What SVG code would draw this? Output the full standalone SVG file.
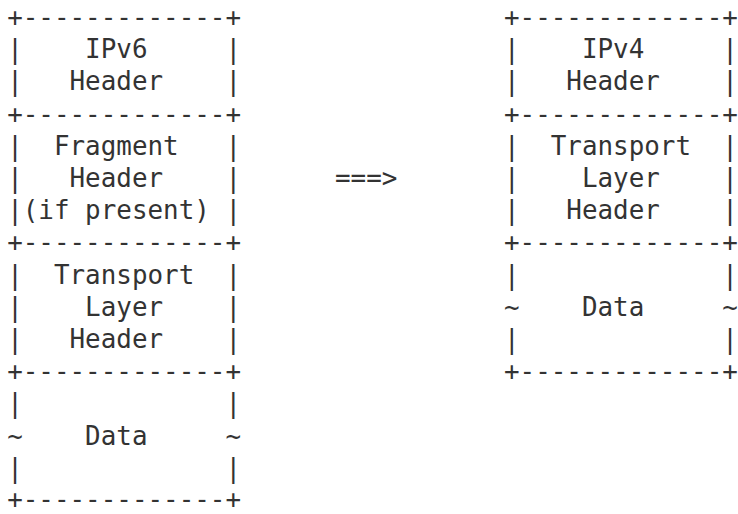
<svg xmlns="http://www.w3.org/2000/svg" width="738" height="514" viewBox="0 0 738 514">
<style>
text{font-family:"DejaVu Sans Mono","Liberation Mono",monospace;font-size:25.9px;fill:#333;white-space:pre}
</style>
<rect width="738" height="514" fill="#fff"/>
<g id="left-stack" xml:space="preserve">
<g id="ipv6-header">
<text x="7.2" y="26">+-------------+</text>
<text x="7.2" y="58.2">|    IPv6     |</text>
<text x="7.2" y="90.4">|   Header    |</text>
<text x="7.2" y="122.6">+-------------+</text>
</g>
<g id="fragment-header">
<text x="7.2" y="154.8">|  Fragment   |</text>
<text x="7.2" y="187">|   Header    |</text>
<text x="7.2" y="219.2">|(if present) |</text>
<text x="7.2" y="251.4">+-------------+</text>
</g>
<g id="transport-header-left">
<text x="7.2" y="283.6">|  Transport  |</text>
<text x="7.2" y="315.8">|    Layer    |</text>
<text x="7.2" y="348">|   Header    |</text>
<text x="7.2" y="380.2">+-------------+</text>
</g>
<g id="data-left">
<text x="7.2" y="412.4">|             |</text>
<text x="7.2" y="444.6">~    Data     ~</text>
<text x="7.2" y="476.8">|             |</text>
<text x="7.2" y="508">+-------------+</text>
</g>
</g>
<g id="connectors" xml:space="preserve">
<text x="335" y="187">===&gt;</text>
</g>
<g id="right-stack" xml:space="preserve">
<g id="ipv4-header">
<text x="504" y="26">+-------------+</text>
<text x="504" y="58.2">|    IPv4     |</text>
<text x="504" y="90.4">|   Header    |</text>
<text x="504" y="122.6">+-------------+</text>
</g>
<g id="transport-header-right">
<text x="504" y="154.8">|  Transport  |</text>
<text x="504" y="187">|    Layer    |</text>
<text x="504" y="219.2">|   Header    |</text>
<text x="504" y="251.4">+-------------+</text>
</g>
<g id="data-right">
<text x="504" y="283.6">|             |</text>
<text x="504" y="315.8">~    Data     ~</text>
<text x="504" y="348">|             |</text>
<text x="504" y="380.2">+-------------+</text>
</g>
</g>
</svg>
